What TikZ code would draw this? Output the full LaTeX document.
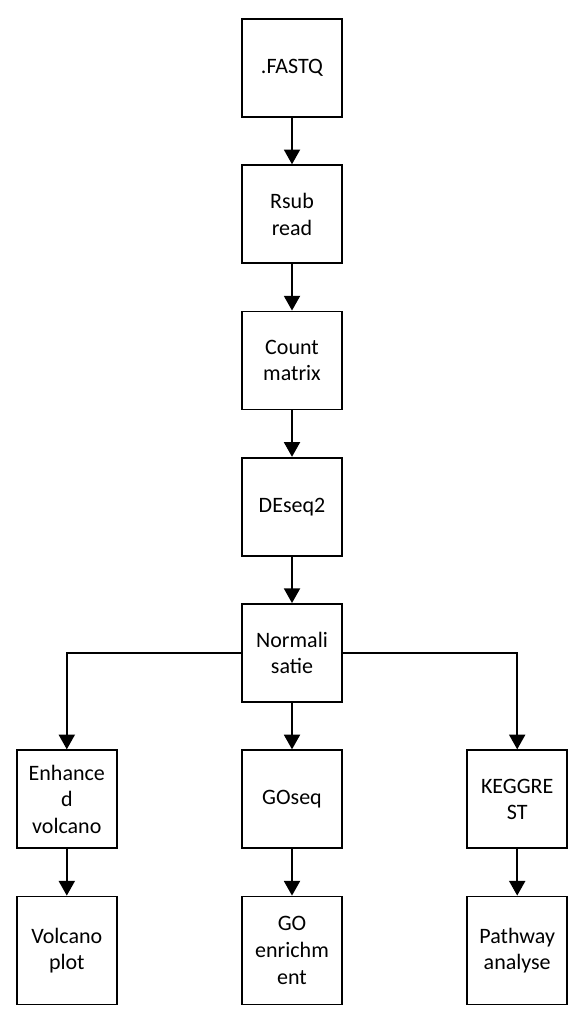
\documentclass[tikz,border=0pt]{standalone}
\usepackage{fontspec}
\setmainfont{Carlito}
\usetikzlibrary{arrows.meta,positioning}
\tikzset{
	stepbox/.style={draw,line width=1.4pt,minimum width=75pt,minimum height=73.5pt,
		inner sep=0pt,text width=72pt,align=center,font=\fontsize{16.5}{20}\selectfont},
	lastbox/.style={stepbox,minimum height=81pt},
	flow/.style={line width=1.4pt,-{Triangle[width=12pt,length=11pt]}}
}
\begin{document}
\begin{tikzpicture}[x=0.75pt,y=-0.75pt,node distance=34.8pt]
\useasboundingbox (0,0) rectangle (580,1009);

% main column
\node[stepbox,anchor=north] (fastq) at (292,18) {.FASTQ};
\node[stepbox,below=of fastq] (rsub) {Rsub\\read};
\node[stepbox,below=of rsub] (count) {Count\\matrix};
\node[stepbox,below=of count] (deseq) {DEseq2};
\node[stepbox,below=of deseq] (norm) {Normali\\satie};

% three branches
\node[stepbox,below=of norm] (goseq) {GOseq};
\node[stepbox,left=92.5pt of goseq] (enh) {Enhance\\d\\volcano};
\node[stepbox,right=92.5pt of goseq] (kegg) {KEGGRE\\ST};

\node[lastbox,below=of goseq.south,anchor=north] (goenr) {GO\\enrichm\\ent};
\node[lastbox,below=of enh.south,anchor=north] (volc) {Volcano\\plot};
\node[lastbox,below=of kegg.south,anchor=north] (path) {Pathway\\analyse};

\draw[flow] (fastq) -- (rsub);
\draw[flow] (rsub) -- (count);
\draw[flow] (count) -- (deseq);
\draw[flow] (deseq) -- (norm);
\draw[flow] (norm) -- (goseq);
\draw[flow] (norm.west) -| (enh.north);
\draw[flow] (norm.east) -| (kegg.north);
\draw[flow] (enh) -- (volc);
\draw[flow] (goseq) -- (goenr);
\draw[flow] (kegg) -- (path);
\end{tikzpicture}
\end{document}
